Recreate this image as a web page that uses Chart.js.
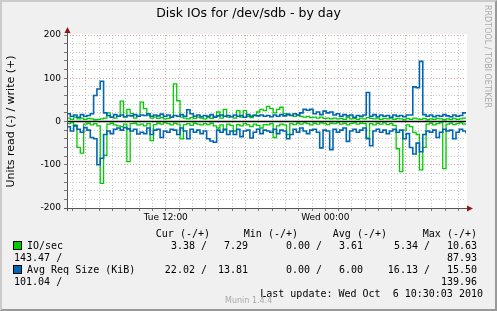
<!DOCTYPE html>
<html><head><meta charset="utf-8">
<script src="https://cdn.jsdelivr.net/npm/chart.js@4/dist/chart.umd.min.js"></script>
<style>
html,body{margin:0;padding:0;background:#f0f0f0;}
#wrap{position:relative;width:497px;height:311px;background:#f0f0f0;overflow:hidden;box-sizing:border-box;border-top:2px solid #cbcbcb;border-left:2px solid #cbcbcb;border-right:2px solid #999;border-bottom:2px solid #999;}
canvas{position:absolute;left:-2px;top:-2px;}
.t{position:absolute;white-space:pre;line-height:12px;color:#000;}
.m{font-family:"DejaVu Sans Mono";font-size:10px;}
.sq{position:absolute;width:7px;height:7px;border:1px solid #000;}
</style></head>
<body>
<div id="wrap">
<canvas id="c" width="497" height="311"></canvas>
</div>
<script>
// ---- data (15-minute samples, minutes since Tue 00:00) ----
const startMinute = 274.5;
const stepMinutes = 15;
const xTickLabels = {720: 'Tue 12:00', 1440: 'Wed 00:00'};
const yTickLabels = [200, 100, 0, -100, -200];

const ioWrite = [
  8, 5, 10, 6, 8, 5, 7, 6, 4, 5,
  6, 8, 20, 10, 8, 12, 47, 10, 28, 18,
  8, 12, 45, 30, 15, 8, 10, 7, 9, 6,
  7, 10, 87, 48, 10, 8, 6, 9, 7, 10,
  8, 6, 9, 7, 12, 22, 8, 28, 10, 12,
  8, 25, 10, 25, 12, 9, 15, 22, 28, 25,
  35, 30, 20, 28, 33, 18, 15, 14, 12, 14,
  12, 10, 12, 9, 10, 8, 10, 7, 8, 6,
  8, 6, 7, 5, 9, 6, 7, 5, 8, 6,
  9, 7, 6, 8, 5, 7, 6, 8, 5, 7,
  6, 4, 7, 5, 8, 6, 5, 7, 4, 6,
  5, 7, 6, 4, 6, 5, 7, 5, 6, 8, 6
];
const ioRead = [
  -5, -3, -8, -60, -73, -6, -4, -8, -5, -10,
  -143, -78, -6, -4, -8, -10, -12, -6, -93, -5,
  -4, -8, -6, -10, -5, -44, -7, -4, -6, -3,
  -5, -8, -4, -6, -40, -7, -5, -9, -4, -6,
  -8, -5, -7, -4, -10, -15, -8, -20, -6, -9,
  -22, -7, -10, -5, -8, -12, -6, -9, -15, -7,
  -8, -5, -37, -10, -6, -8, -30, -5, -7, -4,
  -6, -3, -5, -8, -4, -6, -3, -5, -7, -4,
  -5, -3, -6, -4, -8, -5, -3, -6, -4, -5,
  -38, -5, -8, -4, -6, -3, -7, -5, -9, -63,
  -116, -20, -8, -12, -25, -30, -112, -60, -6, -4,
  -8, -5, -3, -109, -6, -4, -7, -5, -3, -6, -4
];
const sizeWrite = [
  18, 12, 15, 10, 16, 12, 14, 18, 60, 75,
  93, 20, 14, 10, 16, 12, 15, 11, 14, 13,
  16, 12, 15, 14, 18, 12, 15, 13, 17, 12,
  15, 10, 14, 12, 16, 12, 27, 18, 12, 15,
  11, 14, 12, 16, 10, 13, 15, 12, 14, 11,
  15, 12, 14, 10, 16, 12, 14, 13, 15, 12,
  14, 11, 15, 12, 16, 13, 17, 14, 18, 15,
  20, 28, 26, 28, 18, 22, 16, 24, 20, 22,
  15, 18, 12, 16, 13, 15, 10, 14, 12, 15,
  67, 12, 16, 11, 15, 12, 14, 10, 15, 12,
  14, 11, 15, 15, 80, 78, 139, 16, 12, 15,
  11, 14, 12, 16, 13, 11, 15, 12, 14, 20, 18
];
const sizeRead = [
  -12, -22, -10, -18, -25, -14, -20, -37, -40, -100,
  -85, -30, -22, -28, -18, -15, -20, -14, -17, -22,
  -18, -29, -25, -28, -15, -30, -20, -18, -37, -22,
  -25, -18, -20, -30, -15, -22, -40, -18, -25, -20,
  -28, -22, -40, -45, -48, -20, -25, -18, -30, -22,
  -30, -18, -35, -22, -20, -38, -25, -18, -28, -20,
  -22, -25, -18, -28, -20, -22, -40, -30, -18, -25,
  -15, -22, -28, -20, -18, -25, -61, -20, -22, -65,
  -18, -25, -20, -15, -46, -22, -18, -25, -20, -15,
  -40, -56, -22, -18, -25, -20, -28, -22, -18, -25,
  -20, -40, -28, -60, -75, -50, -70, -30, -22, -25,
  -20, -37, -25, -18, -22, -20, -40, -25, -18, -22, -28
];

const legendRows = [
  {name: 'IO/sec', color: '#00cc00', cur: ['3.38', '7.29'], min: ['0.00', '3.61'], avg: ['5.34', '10.63'], max: ['143.47', '87.93']},
  {name: 'Avg Req Size (KiB)', color: '#0066b3', cur: ['22.02', '13.81'], min: ['0.00', '6.00'], avg: ['16.13', '15.50'], max: ['101.04', '139.96']}
];

// ---- build ----
const GREEN = '#00cc00', BLUE = '#0066b3';
const toPts = arr => arr.map((v, i) => ({x: startMinute + i * stepMinutes, y: v}));
const endMinute = startMinute + (ioWrite.length - 1) * stepMinutes;

const wrap = document.getElementById('wrap');
function addText(txt, cls, left, top, style) {
  const d = document.createElement('div');
  d.className = 't ' + cls;
  d.textContent = txt;
  d.style.left = (left - 2) + 'px';
  d.style.top = (top - 2) + 'px';
  if (style) Object.assign(d.style, style);
  wrap.appendChild(d);
  return d;
}
function addRight(txt, right, top) {
  const d = addText(txt, 'm', 0, top);
  d.style.left = '';
  d.style.right = (497 - right - 2) + 'px';
  return d;
}
// title
addText('Disk IOs for /dev/sdb - by day', '', 0, 6, {width: '497px', textAlign: 'center', fontFamily: 'DejaVu Sans', fontSize: '12.5px', lineHeight: '14px'});
// watermark vertical
addText('RRDTOOL / TOBI OETIKER', '', 482, 5, {fontFamily: 'DejaVu Sans', fontSize: '8px', color: '#aaa', writingMode: 'vertical-rl', lineHeight: '10px'});
// legend header
addRight('Cur (-/+)', 210, 228);
addRight('Min (-/+)', 298, 228);
addRight('Avg (-/+)', 387, 228);
addRight('Max (-/+)', 477, 228);
legendRows.forEach((r, k) => {
  const y = 240 + k * 24;
  const sq = document.createElement('div');
  sq.className = 'sq';
  sq.style.left = (13 - 2) + 'px';
  sq.style.top = (y + 1 - 2) + 'px';
  sq.style.background = r.color;
  wrap.appendChild(sq);
  addText(r.name, 'm', 27, y);
  addRight(r.cur[0] + ' /', 207, y);
  addRight(r.cur[1], 248, y);
  addRight(r.min[0] + ' /', 322, y);
  addRight(r.min[1], 363, y);
  addRight(r.avg[0] + ' /', 430, y);
  addRight(r.avg[1], 477, y);
  addText(r.max[0] + ' /', 'm', 14, y + 12);
  addRight(r.max[1], 477, y + 12);
});
addRight('Last update: Wed Oct  6 10:30:03 2010', 483, 288);
addText('Munin 1.4.4', '', 225, 295, {fontFamily: 'DejaVu Sans', fontSize: '8px', color: '#aaa'});

const frame = {
  id: 'frame',
  beforeDraw(chart) {
    const a = chart.chartArea, ctx = chart.ctx;
    ctx.save();
    ctx.fillStyle = '#fff';
    ctx.fillRect(a.left, a.top - 1, a.right - a.left + 1, a.bottom - a.top + 1);
    ctx.restore();
  },
  afterDraw(chart) {
    const a = chart.chartArea, ctx = chart.ctx;
    ctx.save();
    ctx.strokeStyle = '#555';
    ctx.lineWidth = 1;
    ctx.beginPath();
    ctx.moveTo(Math.round(a.left) + 0.5, a.bottom + 3);
    ctx.lineTo(Math.round(a.left) + 0.5, a.top - 5);
    ctx.moveTo(a.left - 3, Math.round(a.bottom) + 0.5);
    ctx.lineTo(a.right + 3, Math.round(a.bottom) + 0.5);
    ctx.stroke();
    ctx.fillStyle = '#8b1a1a';
    const x0 = Math.round(a.left) + 0.5, y0 = Math.round(a.bottom) + 0.5;
    ctx.beginPath();
    ctx.moveTo(x0 - 3, a.top - 2); ctx.lineTo(x0 + 3, a.top - 2); ctx.lineTo(x0, a.top - 8); ctx.closePath(); ctx.fill();
    ctx.beginPath();
    ctx.moveTo(a.right + 1, y0 - 3); ctx.lineTo(a.right + 1, y0 + 3); ctx.lineTo(a.right + 7, y0); ctx.closePath(); ctx.fill();
    ctx.restore();
  }
};

const isMajorX = v => Math.abs(v % 360) < 1e-6;
const isMajorY = v => v % 100 === 0;

new Chart(document.getElementById('c'), {
  type: 'line',
  data: {
    datasets: [
      {label: 'zero', data: [{x: startMinute, y: 0}, {x: endMinute, y: 0}], borderColor: '#000', borderWidth: 1.6, pointRadius: 0},
      {label: 'size write', data: toPts(sizeWrite), borderColor: BLUE, borderWidth: 1.6, stepped: true, pointRadius: 0},
      {label: 'size read', data: toPts(sizeRead), borderColor: BLUE, borderWidth: 1.6, stepped: true, pointRadius: 0},
      {label: 'io write', data: toPts(ioWrite), borderColor: GREEN, borderWidth: 1.3, stepped: true, pointRadius: 0},
      {label: 'io read', data: toPts(ioRead), borderColor: GREEN, borderWidth: 1.3, stepped: true, pointRadius: 0}
    ]
  },
  options: {
    responsive: false,
    animation: false,
    events: [],
    layout: {padding: {left: 2, top: 35, right: 31, bottom: 84}},
    plugins: {legend: {display: false}, tooltip: {enabled: false}, title: {display: false}},
    scales: {
      x: {
        type: 'linear', min: startMinute, max: endMinute,
        afterBuildTicks(s) {
          const t = [];
          for (let m = Math.ceil(startMinute / 60) * 60; m < endMinute; m += 60) t.push({value: m});
          s.ticks = t;
        },
        afterFit(s) { s.height = 19; },
        border: {display: false, dash: [1, 2]},
        grid: {
          color: c => isMajorX(c.tick.value) ? '#e39a9a' : '#c8c8c8',
          tickBorderDash: [],
          tickColor: '#777',
          tickLength: 3,
          drawOnChartArea: true
        },
        ticks: {
          autoSkip: false, maxRotation: 0, padding: 1,
          color: '#000',
          font: {family: 'DejaVu Sans', size: 9},
          callback: v => xTickLabels[v] || ''
        }
      },
      y: {
        type: 'linear', min: -200, max: 200,
        afterBuildTicks(s) {
          const t = [];
          for (let v = -200; v <= 200; v += 20) t.push({value: v});
          s.ticks = t;
        },
        afterFit(s) { s.width = 65; },
        border: {display: false, dash: [1, 2]},
        grid: {
          color: c => isMajorY(c.tick.value) ? '#e39a9a' : '#c8c8c8',
          tickBorderDash: [],
          tickColor: '#777',
          tickLength: 3
        },
        ticks: {
          autoSkip: false, padding: 3, color: '#000',
          font: {family: 'DejaVu Sans', size: 9},
          callback: v => yTickLabels.includes(v) ? String(v) : ''
        },
        title: {
          display: true, text: 'Units read (-) / write (+)', color: '#000',
          font: {family: 'DejaVu Sans', size: 11, lineHeight: 1.2},
          padding: {top: 3, bottom: 0}
        }
      }
    }
  },
  plugins: [frame]
});
</script>
</body></html>
